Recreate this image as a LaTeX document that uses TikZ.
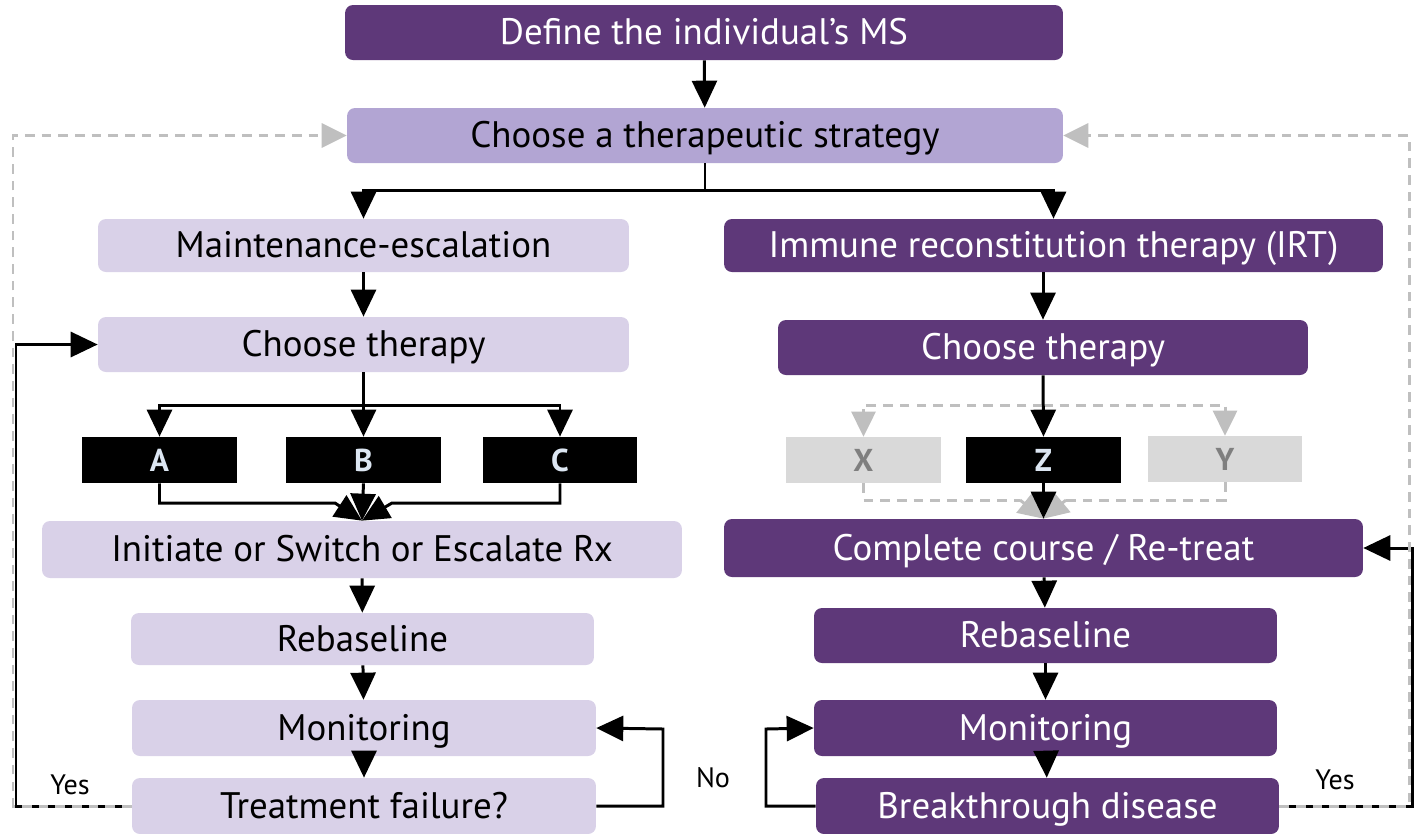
\documentclass[tikz,border=0pt]{standalone}
\usepackage{fontspec}
\setmainfont{PT Sans}
\usepackage{xcolor}
\usetikzlibrary{arrows.meta}
\usetikzlibrary{calc}

\definecolor{msdark}{HTML}{5E3879}
\definecolor{msmid}{HTML}{B2A5D3}
\definecolor{mslight}{HTML}{D9D1E8}
\definecolor{msgrey}{HTML}{D9D9D9}
\definecolor{msgreytxt}{HTML}{7F7F7F}
\definecolor{msline}{HTML}{BFBFBF}
\definecolor{mspale}{HTML}{DCE6F2}

\tikzset{
  box/.style={rounded corners=4.5pt, inner sep=0pt,
    text height=17.5pt, text depth=3.5pt,
    font=\fontsize{21}{24}\selectfont},
  darkbox/.style={box, fill=msdark, text=white},
  midbox/.style={box, fill=msmid, text=black},
  lightbox/.style={box, fill=mslight, text=black},
  drugbox/.style={inner sep=0pt, minimum width=3.1cm, minimum height=0.92cm,
    font=\fontsize{18}{20}\selectfont\bfseries},
  arr/.style={line width=1.7pt, -{Triangle[length=0.54cm,width=0.5cm]}},
  plain/.style={line width=1.7pt},
  greyarr/.style={line width=1.7pt, msline, dash pattern=on 5.5pt off 4pt,
    -{Triangle[length=0.5cm,width=0.48cm]}},
  greyline/.style={line width=1.7pt, msline, dash pattern=on 5.5pt off 4pt},
  answer/.style={font=\fontsize{16}{18}\selectfont}
}

\begin{document}
\begin{tikzpicture}[x=0.02cm, y=-0.02cm]
  \useasboundingbox (0,0) rectangle (1418,833);

  % Top
  \node[darkbox, minimum width=14.36cm, minimum height=1.1cm] (define) at (704,32.5) {Define the individual’s MS};
  \node[midbox, minimum width=14.32cm, minimum height=1.1cm] (strat) at (705,135.5) {Choose a therapeutic strategy};

  % Left column
  \node[lightbox, minimum width=10.62cm, minimum height=1.06cm] (maint) at (363.5,245.5) {Maintenance-escalation};
  \node[lightbox, minimum width=10.62cm, minimum height=1.1cm] (ctl) at (363.5,344.5) {Choose therapy};
  \node[drugbox, fill=black, text=mspale] (A) at (159.5,460) {A};
  \node[drugbox, fill=black, text=mspale] (B) at (363.5,460) {B};
  \node[drugbox, fill=black, text=mspale] (C) at (560,460) {C};
  \node[lightbox, minimum width=12.8cm, minimum height=1.14cm] (init) at (362,549.5) {Initiate or Switch or Escalate Rx};
  \node[lightbox, minimum width=9.26cm, minimum height=1.04cm] (rebl) at (362.5,639) {Rebaseline};
  \node[lightbox, minimum width=9.28cm, minimum height=1.12cm] (monl) at (364,728) {Monitoring};
  \node[lightbox, minimum width=9.28cm, minimum height=1.12cm] (fail) at (364,806) {Treatment failure?};

  % Right column
  \node[darkbox, minimum width=13.18cm, minimum height=1.06cm] (irt) at (1053.5,245.5) {Immune reconstitution therapy (IRT)};
  \node[darkbox, minimum width=10.6cm, minimum height=1.1cm] (ctr) at (1043,347.5) {Choose therapy};
  \node[drugbox, fill=msgrey, text=msgreytxt] (X) at (863.5,460) {X};
  \node[drugbox, fill=black, text=mspale] (Z) at (1043.5,460) {Z};
  \node[drugbox, fill=msgrey, text=msgreytxt] (Y) at (1225,459) {Y};
  \node[darkbox, minimum width=12.78cm, minimum height=1.16cm] (compl) at (1043.5,548) {Complete course / Re-treat};
  \node[darkbox, minimum width=9.26cm, minimum height=1.1cm] (rebr) at (1045.5,635.5) {Rebaseline};
  \node[darkbox, minimum width=9.26cm, minimum height=1.12cm] (monr) at (1045.5,728) {Monitoring};
  \node[darkbox, minimum width=9.26cm, minimum height=1.12cm] (brk) at (1047.5,806) {Breakthrough disease};

  % Labels
  \node[answer] (yesl) at (70,785) {Yes};
  \node[answer] (no) at (713,778) {No};
  \node[answer] (yesr) at (1335,780) {Yes};

  % Main flow
  \draw[arr] (define) -- (strat);
  \coordinate (split) at (705,190);
  \draw[plain] (strat.south) -- (split);
  \draw[arr] (split) -| (maint.north);
  \draw[arr] (split) -| (irt.north);
  \draw[arr] (maint) -- (ctl);
  \coordinate (abc) at (363.5,405);
  \draw[plain] (ctl.south) -- (abc);
  \draw[arr] (abc) -| (A.north);
  \draw[arr] (abc) -- (B.north);
  \draw[arr] (abc) -| (C.north);
  \draw[arr] (A.south) |- (335,503) -- (init.north);
  \draw[arr] (C.south) |- (392,503) -- (init.north);
  \draw[arr] (B.south) -- (init.north);
  \draw[arr] (init) -- (rebl);
  \draw[arr] (rebl) -- (monl);
  \draw[arr] (monl) -- (fail);

  % Right flow
  \draw[arr] (ctr.north |- irt.south) -- (ctr.north);
  \coordinate (xyz) at (1043,405);
  \draw[greyarr] (xyz) -| (X.north);
  \draw[greyarr] (xyz) -| (Y.north);
  \draw[greyline] (X.south) |- (1020,500);
  \draw[greyarr] (1020,500) -- (compl.north);
  \draw[greyline] (Y.south) |- (1066,500);
  \draw[greyarr] (1066,500) -- (compl.north);
  \draw[arr] (ctr.south) -- (Z.north);
  \draw[arr] (Z.south) -- (compl.north);
  \draw[arr] (compl) -- (rebr);
  \draw[arr] (rebr) -- (monr);
  \draw[arr] (monr) -- (brk);

  % Loops
  \coordinate (nol) at (663,729);
  \draw[arr] (fail.east) -| (nol) -- (monl.east);
  \coordinate (nor) at (766,729);
  \draw[arr] (brk.west) -| (nor) -- (monr.west);
  \coordinate (lft) at (16,344.5);
  \draw[arr] (fail.west) -| (lft) -- (ctl.west);
  \coordinate (rgt) at (1412,548);
  \draw[arr] (brk.east) -| (rgt) -- (compl.east);
  \coordinate (lgt) at (13,135.5);
  \draw[greyarr] (fail.west) -| (lgt) -- (strat.west);
  \coordinate (rgg) at (1409,135.5);
  \draw[greyarr] (brk.east) -| (rgg) -- (strat.east);
\end{tikzpicture}
\end{document}
